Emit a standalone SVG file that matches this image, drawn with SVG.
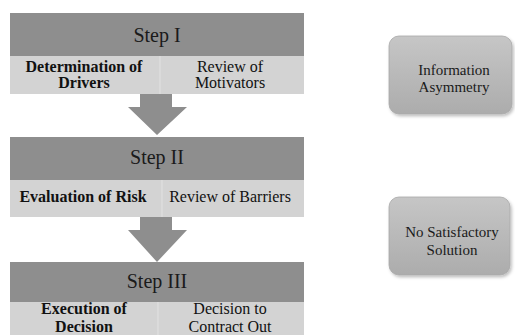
<svg xmlns="http://www.w3.org/2000/svg" width="515" height="335" viewBox="0 0 515 335">
  <style>
    .hdr { fill: #8e8e8e; }
    .sub { fill: #d3d3d3; }
    .div { stroke: #e2e2e2; stroke-width: 1; }
    .arrow { fill: #8e8e8e; }
    text { font-family: 'Liberation Serif', 'Times New Roman', serif; text-anchor: middle; }
    .title { font-size: 20px; fill: #1a1a1a; }
    .bold { font-size: 16px; font-weight: bold; fill: #111; }
    .reg { font-size: 16px; fill: #111; }
    .side { font-size: 15px; fill: #1a1a1a; }
    .box { fill: url(#boxGrad); stroke: #a8a8a8; stroke-width: 0.8; filter: url(#shadow); }
  </style>
  <defs>
    <linearGradient id="boxGrad" x1="0" y1="0" x2="0" y2="1">
      <stop offset="0" stop-color="#c6c6c6"/>
      <stop offset="1" stop-color="#acacac"/>
    </linearGradient>
    <filter id="shadow" x="-10%" y="-10%" width="125%" height="130%">
      <feDropShadow dx="1.5" dy="2" stdDeviation="1.5" flood-color="#000" flood-opacity="0.25"/>
    </filter>
  </defs>
  <rect width="515" height="335" fill="#ffffff"/>

  <!-- connectors: block arrows between the steps -->
  <g id="connectors">
    <polygon class="arrow" points="140,94 172,94 172,107 187,107 157,135 128,107 140,107"/>
    <polygon class="arrow" points="140,217 172,217 172,230 187,230 157,262 128,230 140,230"/>
  </g>

  <g id="step1">
    <rect class="hdr" x="10" y="13" width="294" height="43"/>
    <rect class="sub" x="10" y="56" width="294" height="38"/>
    <line class="div" x1="160" y1="56" x2="160" y2="94"/>
    <text class="title" x="157" y="42">Step I</text>
    <text class="bold" x="84" y="72">Determination of</text>
    <text class="bold" x="84" y="88">Drivers</text>
    <text class="reg" x="230" y="72">Review of</text>
    <text class="reg" x="230" y="88">Motivators</text>
  </g>

  <g id="step2">
    <rect class="hdr" x="10" y="137" width="294" height="43"/>
    <rect class="sub" x="10" y="180" width="294" height="37"/>
    <line class="div" x1="162" y1="180" x2="162" y2="217"/>
    <text class="title" x="157" y="164">Step II</text>
    <text class="bold" x="83" y="202">Evaluation of Risk</text>
    <text class="reg" x="230" y="202">Review of Barriers</text>
  </g>

  <g id="step3">
    <rect class="hdr" x="10" y="262" width="294" height="40"/>
    <rect class="sub" x="10" y="302" width="294" height="33"/>
    <line class="div" x1="158" y1="302" x2="158" y2="335"/>
    <text class="title" x="157" y="288">Step III</text>
    <text class="bold" x="84" y="314">Execution of</text>
    <text class="bold" x="84" y="332">Decision</text>
    <text class="reg" x="230" y="314">Decision to</text>
    <text class="reg" x="230" y="332">Contract Out</text>
  </g>

  <g id="info-asymmetry">
    <rect class="box" x="389" y="36" width="123" height="78" rx="10"/>
    <text class="side" x="454" y="75">Information</text>
    <text class="side" x="454" y="92">Asymmetry</text>
  </g>

  <g id="no-satisfactory-solution">
    <rect class="box" x="389" y="197" width="121" height="78" rx="10"/>
    <text class="side" x="452" y="237">No Satisfactory</text>
    <text class="side" x="452" y="255">Solution</text>
  </g>
</svg>
